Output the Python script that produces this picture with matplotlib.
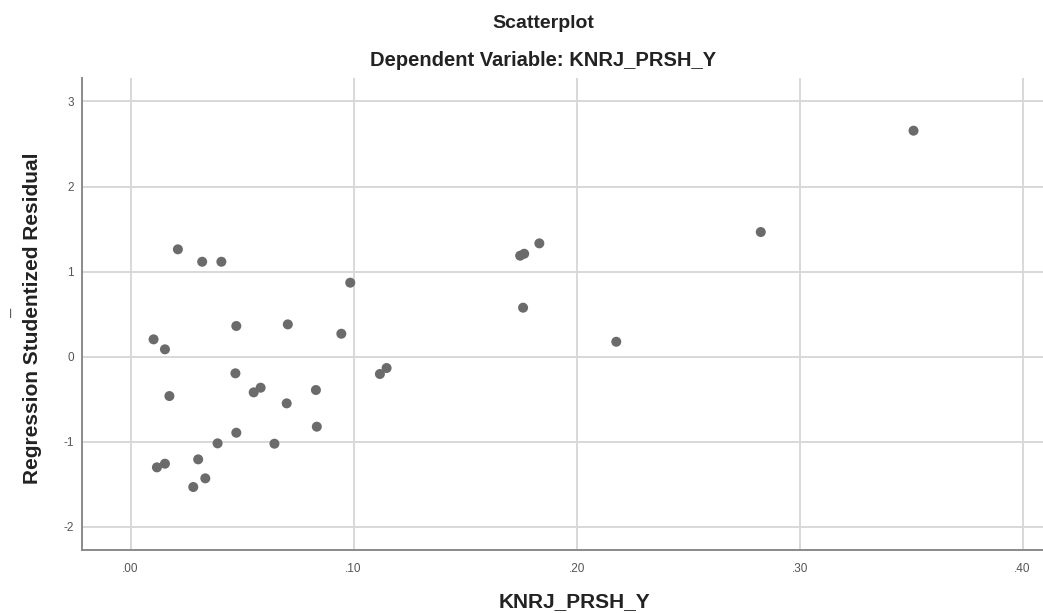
#!/usr/bin/env python3
"""
Residual scatterplot (SPSS style): studentized residual vs KNRJ_PRSH_Y.
"""

import matplotlib
matplotlib.use('Agg')
import matplotlib.pyplot as plt
from matplotlib.ticker import FuncFormatter

# ─────────────────────────────────────────────
# DATA
# ─────────────────────────────────────────────

knrj_prsh_y = [
    0.0212, 0.0321, 0.0407, 0.0985, 0.0103, 0.0154, 0.0474, 0.0705, 0.0945,
    0.0470, 0.0174, 0.0552, 0.0583, 0.0700, 0.0831, 0.0835, 0.0474, 0.0390,
    0.0645, 0.0118, 0.0154, 0.0303, 0.0335, 0.0281,
    0.1833, 0.1747, 0.1765, 0.1760, 0.2178, 0.1118, 0.1148,
    0.3511, 0.2826,
]
stud_resid = [
    1.262, 1.116, 1.116, 0.870, 0.204, 0.087, 0.361, 0.380, 0.270,
    -0.195, -0.462, -0.419, -0.364, -0.548, -0.391, -0.822, -0.893, -1.018,
    -1.022, -1.300, -1.257, -1.206, -1.429, -1.531,
    1.332, 1.187, 1.210, 0.576, 0.176, -0.203, -0.133,
    2.656, 1.465,
]

x_ticks = [0.0, 0.1, 0.2, 0.3, 0.4]
y_ticks = [-2, -1, 0, 1, 2, 3]

title = 'Scatterplot'
subtitle = 'Dependent Variable: KNRJ_PRSH_Y'
x_label = 'KNRJ_PRSH_Y'
y_label = 'Regression Studentized Residual'

# ─────────────────────────────────────────────
# PLOT
# ─────────────────────────────────────────────

plt.rcParams['font.family'] = ['Liberation Sans', 'DejaVu Sans']

W, H = 1043, 613
fig = plt.figure(figsize=(W / 100, H / 100), dpi=100)
ax = fig.add_axes([82 / W, 1 - 550 / H, (W - 82) / W + 0.002, (550 - 78) / H])

ax.scatter(knrj_prsh_y, stud_resid, s=52, color='#6b6b6b', edgecolors='none', zorder=3)

ax.set_xlim(-0.0218, 0.4101)
ax.set_ylim(-2.271, 3.275)
ax.set_xticks(x_ticks)
ax.set_yticks(y_ticks)
ax.xaxis.set_major_formatter(FuncFormatter(lambda v, p: f'{v:.2f}'.lstrip('0')))
ax.yaxis.set_major_formatter(FuncFormatter(lambda v, p: f'{int(round(v))}'))

ax.grid(True, color='#d8d8d8', linewidth=1.4, zorder=0)
ax.set_axisbelow(True)
ax.tick_params(length=0, labelsize=8.5, labelcolor='#555555')
ax.tick_params(axis='x', pad=9)
ax.tick_params(axis='y', pad=6)

for side in ['top', 'right']:
    ax.spines[side].set_visible(False)
for side in ['left', 'bottom']:
    ax.spines[side].set_color('#8a8a8a')
    ax.spines[side].set_linewidth(1.4)

# titles and axis labels placed where the reference has them
fig.text(543 / W, 1 - 23 / H, title, ha='center', va='center',
         fontsize=14, fontweight='bold', color='#222222')
fig.text(543 / W, 1 - 61 / H, subtitle, ha='center', va='center',
         fontsize=14.5, fontweight='bold', color='#222222')
fig.text(575 / W, 1 - 602 / H, x_label, ha='center', va='center',
         fontsize=15, fontweight='bold', color='#222222')
fig.text(33 / W, 1 - 318 / H, y_label, ha='center', va='center', rotation=90,
         fontsize=15, fontweight='bold', color='#222222')
fig.text(12 / W, 1 - 312 / H, '\u2013', ha='center', va='center', rotation=90,
         fontsize=12, color='#555555')

fig.savefig('out.png', dpi=100)
